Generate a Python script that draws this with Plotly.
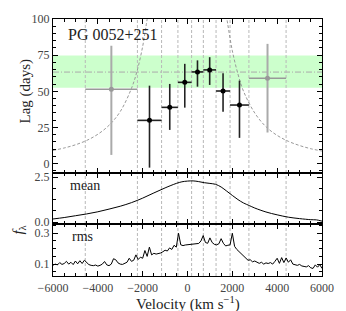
import plotly.graph_objects as go
from plotly.subplots import make_subplots

# ---------------- data ----------------
bin_edges = [-4560, -2234, -1156, -428, 183, 707, 1274, 1898, 2740, 4398]

lag_v_gray = [-3397, 3569]
lag_gray = [51.5, 59.0]
lag_gray_lo = [45.5, 37.5]
lag_gray_hi = [30.0, 23.8]
lag_gray_left = [1163, 829]
lag_gray_right = [1163, 829]

lag_v = [-1695, -792, -122, 445, 990, 1586, 2319]
lag = [29.9, 38.9, 56.2, 63.4, 64.8, 50.2, 40.5]
lag_lo = [32.7, 15.6, 17.5, 10.2, 10.4, 14.4, 22.7]
lag_hi = [24.0, 16.2, 12.8, 8.0, 8.8, 12.3, 16.9]
lag_left = [539, 364, 306, 262, 284, 312, 421]
lag_right = [539, 364, 306, 262, 284, 312, 421]

mean_lag = 63.3
mean_lag_lo = 52.5
mean_lag_hi = 74.8

env_left_v = [-6000, -5500, -5000, -4500, -4000, -3500, -3000, -2500, -2250, -2000, -1850, -1780]
env_left_lag = [9.1, 10.8, 13.0, 16.0, 20.3, 26.5, 36, 52, 64, 81, 95, 102]
env_right_v = [1700, 1800, 2000, 2250, 2500, 3000, 3500, 4000, 4500, 5000, 5500, 6000]
env_right_lag = [106, 96, 78, 62, 50, 35, 25.5, 19.5, 15.4, 12.5, 10.3, 8.7]

mean_v = [-6000, -5500, -5000, -4500, -4000, -3500, -3000, -2500, -2000, -1500, -1000,
          -500, -250, 0, 250, 500, 750, 1000, 1250, 1500, 1750, 2000, 2250, 2500,
          2750, 3000, 3500, 4000, 4500, 5000, 5500, 5750, 6000]
mean_flux = [0.17, 0.25, 0.35, 0.45, 0.57, 0.72, 0.88, 1.08, 1.33, 1.62, 1.90,
             2.15, 2.24, 2.28, 2.29, 2.25, 2.19, 2.15, 2.10, 1.95, 1.72, 1.48, 1.25, 1.06,
             0.92, 0.78, 0.56, 0.40, 0.27, 0.19, 0.13, 0.12, 0.05]

rms_v = list(range(-6000, 6001, 100))
rms_flux = [0.093, 0.100, 0.095, 0.110, 0.098, 0.104, 0.118, 0.100, 0.112, 0.097,
            0.120, 0.102, 0.122, 0.104, 0.125, 0.110, 0.097, 0.092, 0.090, 0.094,
            0.087, 0.092, 0.100, 0.117, 0.095, 0.090, 0.100, 0.135, 0.128, 0.108,
            0.100, 0.098, 0.104, 0.112, 0.138, 0.118, 0.125, 0.160, 0.130, 0.145,
            0.138, 0.188, 0.150, 0.210, 0.160, 0.170, 0.165, 0.168, 0.172, 0.180,
            0.190, 0.185, 0.205, 0.195, 0.222, 0.210, 0.300, 0.225, 0.220, 0.224,
            0.226, 0.228, 0.230, 0.232, 0.236, 0.234, 0.250, 0.285, 0.240, 0.235,
            0.270, 0.240, 0.228, 0.225, 0.232, 0.265, 0.235, 0.218, 0.222, 0.225,
            0.300, 0.215, 0.195, 0.180, 0.165, 0.150, 0.135, 0.125, 0.128, 0.115,
            0.120, 0.110, 0.105, 0.112, 0.100, 0.108, 0.104, 0.110, 0.100, 0.118,
            0.138, 0.105, 0.142, 0.110, 0.140, 0.112, 0.128, 0.100, 0.095, 0.092,
            0.098, 0.088, 0.085, 0.082, 0.090, 0.076, 0.072, 0.095, 0.080, 0.097,
            0.072]

# ---------------- figure ----------------
FONT = "Liberation Serif"
fig = make_subplots(rows=3, cols=1, shared_xaxes=True, vertical_spacing=0,
                    row_heights=[154, 51, 52])

# envelope
for vv, ll in [(env_left_v, env_left_lag), (env_right_v, env_right_lag)]:
    fig.add_trace(go.Scatter(x=vv, y=ll, mode="lines", line_shape="spline",
                             line=dict(color="#999999", width=1, dash="3px,2px"),
                             showlegend=False, hoverinfo="skip"), row=1, col=1)

fig.add_trace(go.Scatter(
    x=lag_v_gray, y=lag_gray, mode="markers",
    marker=dict(color="#999999", size=5),
    error_y=dict(type="data", symmetric=False, array=lag_gray_hi, arrayminus=lag_gray_lo,
                 color="#aaaaaa", thickness=2, width=0),
    error_x=dict(type="data", symmetric=False, array=lag_gray_right, arrayminus=lag_gray_left,
                 color="#999999", thickness=1.5, width=0),
    showlegend=False), row=1, col=1)

fig.add_trace(go.Scatter(
    x=lag_v, y=lag, mode="markers",
    marker=dict(color="black", size=5),
    error_y=dict(type="data", symmetric=False, array=lag_hi, arrayminus=lag_lo,
                 color="#222222", thickness=1.6, width=0),
    error_x=dict(type="data", symmetric=False, array=lag_right, arrayminus=lag_left,
                 color="#222222", thickness=1.6, width=0),
    showlegend=False), row=1, col=1)

fig.add_trace(go.Scatter(x=mean_v, y=mean_flux, mode="lines", line_shape="spline",
                         line=dict(color="black", width=1), showlegend=False),
              row=2, col=1)
fig.add_trace(go.Scatter(x=rms_v, y=rms_flux, mode="lines",
                         line=dict(color="black", width=1), showlegend=False),
              row=3, col=1)

# green band, mean lag line, bin edges (after traces so subplots are non-empty)
fig.add_hrect(y0=mean_lag_lo, y1=mean_lag_hi, fillcolor="rgba(0,255,0,0.2)",
              line_width=0, layer="below", row=1, col=1)
fig.add_hline(y=mean_lag, line=dict(color="#aaaaaa", width=1, dash="6px,2px,1px,2px"),
              layer="below", row=1, col=1)
for e in bin_edges:
    fig.add_vline(x=e, line=dict(color="#b8b8b8", width=1, dash="3px,2px"),
                  layer="below", row="all", col=1)

axis_common = dict(showline=True, linecolor="black", linewidth=1.3, mirror="allticks",
                   ticks="inside", ticklen=5, tickwidth=1, tickcolor="black",
                   showgrid=False, zeroline=False,
                   tickfont=dict(family=FONT, size=12, color="#444444"))

for r in (1, 2, 3):
    fig.update_xaxes(range=[-6000, 6000], tickvals=[-6000, -4000, -2000, 0, 2000, 4000, 6000],
                     ticktext=["\u22126000", "\u22124000", "\u22122000", "0", "2000", "4000", "6000"],
                     minor=dict(dtick=500, ticks="inside", ticklen=3, tickcolor="black"),
                     showticklabels=(r == 3), row=r, col=1, **axis_common)

fig.update_yaxes(range=[-6.5, 100], tickvals=[0, 25, 50, 75, 100],
                 minor=dict(dtick=5, ticks="inside", ticklen=3, tickcolor="black"),
                 row=1, col=1, **axis_common)
fig.update_yaxes(range=[-0.11, 2.73], tickvals=[0.0, 2.5], ticktext=["0.0", "2.5"],
                 minor=dict(tick0=0, dtick=0.625, ticks="inside", ticklen=3, tickcolor="black"),
                 row=2, col=1, **axis_common)
fig.update_yaxes(range=[0.023, 0.36], tickvals=[0.1, 0.3], ticktext=["0.1", "0.3"],
                 minor=dict(tick0=0, dtick=0.05, ticks="inside", ticklen=3, tickcolor="black"),
                 row=3, col=1, **axis_common)

ann = [
    dict(text="Lag (days)", x=-0.102, y=0.72, textangle=-90, font_size=15),
    dict(text="<i>f</i><sub>\u03bb</sub>", x=-0.128, y=0.179, textangle=-90, font_size=15),
    dict(text="Velocity (km s<sup>\u22121</sup>)", x=0.5, y=-0.108, font_size=15),
]
for a in ann:
    fig.add_annotation(xref="paper", yref="paper", showarrow=False,
                       xanchor="center", yanchor="middle",
                       font=dict(family=FONT, size=a.pop("font_size"), color="#222222"), **a)

for text, x, y, size in [("PG 0052+251", 0.047, 0.938, 16),
                         ("mean", 0.0545, 0.354, 14),
                         ("rms", 0.062, 0.152, 14)]:
    fig.add_annotation(xref="paper", yref="paper", showarrow=False, text=text,
                       x=x, y=y, xanchor="left", yanchor="middle",
                       font=dict(family=FONT, size=size, color="#222222"))

fig.update_layout(width=346, height=311, margin=dict(l=53, r=18, t=19, b=35),
                  paper_bgcolor="white", plot_bgcolor="rgba(0,0,0,0)",
                  font=dict(family=FONT))

fig.write_html("out.html", config={"displayModeBar": False},
               post_script="document.body.style.margin='0';document.body.style.padding='0';")
